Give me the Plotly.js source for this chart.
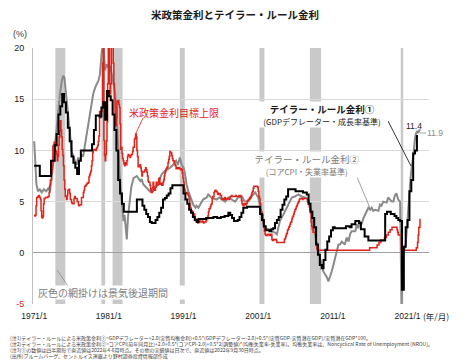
<!DOCTYPE html>
<html>
<head>
<meta charset="utf-8">
<script src="https://cdn.plot.ly/plotly-3.0.1.min.js"></script>
<style>html,body{margin:0;padding:0;background:#fff;}#chart{width:474px;height:363px;}</style>
</head>
<body>
<div id="chart"></div>
<script>
// ---------------- DATA ----------------
// Recession periods (decimal years)
const recessionStart = [1973.83, 1980.0, 1981.5, 1990.5, 2001.17, 2007.92, 2020.08];
const recessionEnd   = [1975.17, 1980.5, 1982.83, 1991.17, 2001.83, 2009.42, 2020.42];

// US policy rate (monthly, Jan 1971 - Nov 2008)
const policyRateMonthly = [
  3.7,3.6,3.7,4.6,5.4,5.4,5.5,5.6,5.5,5.4,5.2,4.1,          // 1971
  3.5,3.4,3.6,4.8,5.3,5.3,5.4,5.4,5.4,5.4,5.5,5.5,          // 1972
  5.9,6.6,7.1,7.1,7.8,8.5,10.4,10.5,10.8,10.0,10.0,9.9,     // 1973
  9.6,9.0,9.4,10.5,11.3,11.9,12.9,12.0,11.3,10.1,9.5,8.5,   // 1974
  7.1,6.2,5.5,5.5,5.2,5.6,6.1,6.1,6.2,5.8,5.2,5.2,          // 1975
  4.9,4.8,4.8,4.8,5.3,5.5,5.3,5.3,5.3,5.0,5.0,4.7,          // 1976
  4.6,4.7,4.7,4.7,5.4,5.4,5.4,5.9,6.1,6.5,6.5,6.6,          // 1977
  6.7,6.8,6.8,6.9,7.4,7.6,7.8,8.0,8.5,9.0,9.8,10.0,         // 1978
  10.1,10.1,10.1,10.0,10.2,10.3,10.5,10.9,11.4,13.8,13.2,13.8, // 1979
  13.8,14.1,18.5,20.5,11.0,9.5,9.0,9.6,10.9,12.8,16.5,21.0, // 1980
  20.5,16.5,15.5,16.5,20.5,20.5,20.2,18.5,16.5,15.1,13.3,12.4, // 1981
  13.2,14.8,14.7,14.9,14.5,14.2,12.6,10.1,10.3,9.7,9.2,9.0, // 1982
  8.7,8.5,8.8,8.8,8.6,9.0,9.4,9.6,9.5,9.5,9.3,9.5,          // 1983
  9.6,9.6,9.9,10.3,10.3,11.1,11.2,11.6,11.3,10.0,9.4,8.4,   // 1984
  8.4,8.5,8.6,8.3,8.0,7.5,7.9,7.9,7.9,8.0,8.1,8.3,          // 1985
  8.1,7.9,7.5,7.0,6.9,6.9,6.6,6.2,5.9,5.9,6.0,6.9,          // 1986
  6.4,6.1,6.1,6.4,6.9,6.7,6.6,6.7,7.2,7.3,6.7,6.8,          // 1987
  6.8,6.6,6.6,6.9,7.1,7.5,7.8,8.0,8.2,8.3,8.4,8.8,          // 1988
  9.1,9.4,9.9,9.8,9.8,9.5,9.2,9.0,9.0,8.8,8.6,8.5,          // 1989
  8.2,8.2,8.3,8.3,8.2,8.3,8.2,8.1,8.2,8.1,7.8,7.3,          // 1990
  6.9,6.3,6.1,5.9,5.8,5.9,5.8,5.7,5.5,5.2,4.8,4.4,          // 1991
  4.0,4.1,4.0,3.7,3.8,3.8,3.3,3.3,3.2,3.1,3.1,2.9,          // 1992
  3.0,3.0,3.1,3.0,3.0,3.0,3.1,3.0,2.9,3.0,3.0,3.0,          // 1993
  3.1,3.3,3.3,3.6,4.0,4.3,4.3,4.5,4.7,4.8,5.3,5.5,          // 1994
  5.5,5.9,6.0,6.1,6.0,6.0,5.9,5.7,5.8,5.8,5.8,5.6,          // 1995
  5.6,5.2,5.3,5.2,5.2,5.3,5.4,5.2,5.3,5.2,5.3,5.3,          // 1996
  5.3,5.2,5.4,5.5,5.5,5.6,5.5,5.5,5.5,5.5,5.5,5.5,          // 1997
  5.6,5.5,5.5,5.5,5.5,5.6,5.5,5.6,5.5,5.1,4.8,4.7,          // 1998
  4.6,4.8,4.8,4.7,4.7,4.8,5.0,5.1,5.2,5.2,5.4,5.3,          // 1999
  5.5,5.7,5.9,6.0,6.3,6.5,6.5,6.5,6.5,6.5,6.5,6.4,          // 2000
  6.0,5.5,5.3,4.8,4.2,4.0,3.8,3.7,3.1,2.5,2.1,1.8,          // 2001
  1.7,1.7,1.7,1.8,1.8,1.8,1.7,1.7,1.8,1.8,1.3,1.2,          // 2002
  1.2,1.3,1.3,1.3,1.3,1.2,1.0,1.0,1.0,1.0,1.0,1.0,          // 2003
  1.0,1.0,1.0,1.0,1.0,1.0,1.3,1.4,1.6,1.8,1.9,2.2,          // 2004
  2.3,2.5,2.6,2.8,3.0,3.0,3.3,3.5,3.6,3.8,4.0,4.2,          // 2005
  4.3,4.5,4.6,4.8,4.9,5.0,5.2,5.3,5.3,5.3,5.3,5.2,          // 2006
  5.3,5.3,5.3,5.3,5.3,5.3,5.3,5.0,4.9,4.8,4.5,4.2,          // 2007
  3.9,3.0,2.6,2.3,2.0,2.0,2.0,2.0,1.8,1.0,0.4               // 2008
];
const policyRateFirstMonth = '1971-01';
// Policy rate target upper limit changes after Dec 2008
const policyStepDates  = ['2008-12','2015-12','2016-12','2017-03','2017-06','2017-12','2018-03','2018-06','2018-09','2018-12','2019-08','2019-09','2019-10','2020-03','2022-03','2022-05','2022-06','2022-07','2022-09','2022-10'];
const policyStepValues = [0.25,0.5,0.75,1.0,1.25,1.5,1.75,2.0,2.25,2.5,2.25,2.0,1.75,0.25,0.5,1.0,1.75,2.5,3.25,3.25];

// Taylor rule 1 (GDP deflator, growth based), quarterly
const taylor1Dates = [1971.0,1971.75,1973.25,1973.75,1974.0,1974.25,1974.5,1974.75,1975.0,1975.25,1975.5,1975.75,1976.0,1976.25,1976.5,1976.75,1977.0,1977.25,1978.75,1979.0,1979.25,1979.75,1980.0,1980.25,1980.5,1980.75,1981.0,1981.25,1981.5,1981.75,1982.0,1982.25,1982.5,1982.75,1983.0,1984.5,1984.75,1985.5,1985.75,1986.0,1986.25,1986.5,1986.75,1987.25,1987.5,1987.75,1988.0,1988.25,1988.5,1988.75,1989.0,1989.25,1989.5,1991.0,1991.25,1991.5,1991.75,1992.0,1992.25,1992.5,1992.75,1993.0,1994.0,1995.0,1995.5,1996.0,1996.5,1997.0,1997.25,1997.5,1997.75,1998.25,1998.5,1998.75,1999.0,1999.5,2001.25,2001.5,2001.75,2002.0,2002.5,2002.75,2003.0,2003.25,2003.5,2003.75,2004.0,2004.25,2004.5,2004.75,2005.0,2006.0,2007.0,2007.5,2007.75,2008.0,2008.25,2008.5,2008.75,2009.0,2009.25,2009.5,2009.75,2010.0,2010.25,2010.5,2010.75,2011.0,2011.25,2012.75,2013.25,2013.5,2014.0,2014.5,2014.75,2015.25,2015.75,2018.0,2018.25,2018.75,2019.25,2019.5,2019.75,2020.0,2020.25,2020.5,2020.75,2021.0,2021.25,2021.5,2021.75,2022.0,2022.25,2022.4];
const taylor1Values = [8.5,7.5,9.0,10.5,11.6,13.5,14.3,15.5,14.7,13.7,12.2,10.9,9.4,8.8,8.3,7.7,9.0,10.0,10.6,12.0,13.4,13.3,14.2,14.7,13.0,15.8,15.3,14.9,13.5,12.0,10.0,7.1,5.8,4.8,4.0,4.0,5.2,4.6,4.2,3.8,3.5,3.0,2.9,3.2,3.5,3.9,4.4,5.2,5.35,5.6,5.8,6.3,6.6,5.8,5.2,4.8,4.2,3.9,3.5,3.2,3.0,3.3,3.4,3.5,3.4,3.5,3.6,3.9,3.7,3.4,3.1,3.2,3.5,3.9,4.4,4.5,3.8,3.2,2.6,2.2,2.1,2.3,2.4,2.9,3.2,3.5,4.2,4.7,5.2,5.5,6.2,6.0,5.9,5.7,4.8,4.0,3.4,2.5,0.8,-0.2,-1.2,-1.5,-0.7,0.3,1.1,1.6,2.2,2.5,2.4,2.6,2.5,2.8,3.1,2.9,2.3,1.6,1.2,3.8,4.0,3.8,3.6,3.4,3.2,3.1,-3.6,0.6,2.5,3.2,6.0,7.1,9.7,10.0,11.4,11.4];

// Taylor rule 2 (core CPI, unemployment based)
const taylor2Dates = [1971.0,1971.1,1971.3,1971.5,1971.75,1972.0,1972.3,1972.6,1972.9,1973.1,1973.35,1973.6,1973.8,1974.0,1974.25,1974.45,1974.7,1974.9,1975.05,1975.2,1975.4,1975.55,1975.8,1976.0,1976.25,1976.45,1976.7,1976.9,1977.1,1977.35,1977.55,1977.8,1978.0,1978.25,1978.45,1978.7,1978.9,1979.15,1979.35,1979.6,1979.8,1980.05,1980.25,1980.5,1980.65,1980.8,1980.95,1981.2,1981.4,1981.6,1981.85,1982.05,1982.2,1982.35,1982.5,1982.75,1982.95,1983.1,1983.25,1983.4,1983.55,1983.75,1984.0,1984.3,1984.75,1985.2,1985.4,1985.6,1986.0,1986.5,1986.9,1987.4,1987.85,1988.1,1988.5,1988.75,1989.2,1989.6,1990.0,1990.25,1990.5,1990.75,1991.0,1991.2,1991.4,1991.65,1991.9,1992.3,1992.6,1992.75,1993.0,1993.2,1993.6,1994.1,1994.3,1994.7,1995.4,1995.8,1996.2,1996.55,1997.0,1997.4,1997.9,1998.3,1998.8,1999.2,1999.65,2000.1,2000.6,2001.0,2001.25,2001.5,2001.7,2001.9,2002.4,2002.8,2003.2,2003.5,2003.7,2003.9,2004.35,2004.6,2005.0,2005.5,2005.9,2006.4,2006.8,2007.3,2007.7,2007.9,2008.15,2008.4,2008.6,2008.8,2009.05,2009.3,2009.5,2009.7,2009.95,2010.2,2010.4,2010.6,2010.85,2011.1,2011.3,2011.5,2011.75,2011.95,2012.2,2012.6,2012.85,2013.1,2013.3,2013.5,2014.0,2014.2,2014.4,2014.6,2014.85,2015.1,2015.3,2015.5,2015.75,2016.0,2016.2,2016.4,2016.65,2017.1,2017.3,2017.5,2017.75,2018.2,2018.4,2018.65,2018.9,2019.1,2019.3,2019.5,2019.75,2020.0,2020.12,2020.2,2020.35,2020.5,2020.75,2020.9,2021.0,2021.2,2021.4,2021.6,2021.8,2021.95,2022.1,2022.3,2022.45,2022.6,2022.7];
const taylor2Values = [10.9,9.0,6.7,6.0,6.2,5.9,6.2,6.0,6.3,6.0,7.3,9.0,10.6,12.2,13.8,15.5,16.8,17.3,17.1,16.1,14.8,13.2,11.6,9.9,9.3,9.0,8.6,9.3,9.0,9.6,9.4,10.6,11.6,12.5,13.8,14.8,15.5,16.1,16.4,16.8,17.4,19.7,20.2,17.8,18.4,18.1,18.4,18.1,17.4,16.4,15.5,13.2,11.2,9.0,6.7,5.0,3.1,3.7,2.1,1.3,3.4,5.0,6.4,7.3,7.5,7.0,7.2,6.7,6.4,6.0,6.4,6.5,7.3,7.7,8.0,8.1,8.3,8.6,9.0,8.6,9.3,8.6,8.3,7.7,6.7,6.0,5.5,4.7,4.4,4.6,4.4,4.7,5.2,5.4,5.7,5.4,5.2,5.4,5.2,5.0,5.4,5.2,5.0,5.4,5.5,5.0,5.0,5.5,5.9,5.4,4.4,3.4,2.8,2.4,2.3,2.1,2.0,1.8,2.4,3.1,3.7,4.1,4.7,5.4,5.5,5.7,5.5,5.4,5.2,4.7,4.1,2.8,1.8,0.8,0.2,-0.5,-1.1,-1.8,-2.1,-2.4,-2.8,-2.4,-1.8,-1.1,-0.5,0.3,0.8,0.8,1.1,0.8,1.5,1.1,1.8,2.1,2.1,2.8,2.4,3.1,2.8,3.4,3.7,4.1,4.4,4.2,4.4,4.1,4.2,4.1,4.7,4.6,5.0,4.9,5.4,5.2,5.0,5.0,5.6,5.8,5.2,5.0,-2.4,-5.5,-0.5,0.2,0.8,2.4,3.4,5.4,7.3,8.6,9.6,10.9,11.6,11.9,11.7,12.0,11.9];

const latestTaylor1 = 11.4;
const latestTaylor2 = 11.9;

const xTickYears  = [1971, 1981, 1991, 2001, 2011, 2021];
const xTickLabels = ['1971/1', '1981/1', '1991/1', '2001/1', '2011/1', '2021/1'];
const yTickVals   = [-5, 0, 5, 10, 15, 20];
const yTickLabels = ['<span style="color:#e2231a">-5</span>', '0', '5', '10', '15', '20'];

const noteLines = [
  '(注1)テイラー・ルールによる米政策金利①=GDPデフレーター+2.0(実質均衡金利)+0.5*(GDPデフレーター-2.0)+0.5*(実質GDP-実質潜在GDP)/実質潜在GDP*100。',
  '(注2)テイラー・ルールによる米政策金利②=コアCPI(前年同月比)+2.0+0.5*(コアCPI-2.0)+0.5*2(調整値)*(均衡失業率-失業率)。均衡失業率は、Noncyclical Rate of Unemployment (NROU)。',
  '(注3)①の数値は四半期毎で直近値は2022年4-6月時点。その他の実績値は日次で、直近値は2022年9月30日時点。',
  '(出所)ブルームバーグ、セントルイス連銀より野村證券投資情報部作成'
];

// ---------------- BUILD ----------------
function ym(s) { const p = s.split('-'); return +p[0] + (+p[1] - 1) / 12; }
const start = ym(policyRateFirstMonth);
const redX = policyRateMonthly.map((v, i) => start + i / 12).concat(policyStepDates.map(ym));
const redY = policyRateMonthly.concat(policyStepValues);

const L = 33, R = 45, T = 48, B = 59, W = 474, H = 363;
const pw = W - L - R, ph = H - T - B;
const px = x => (x - L) / pw;
const py = y => (H - B - y) / ph;

const JP = '"Noto Sans CJK JP", "Liberation Sans", sans-serif';
const NUM = '"Liberation Sans", Arial, sans-serif';
const RED = '#e2231a', GRAY = '#8a8a8a';

const traces = [
  { x: taylor2Dates, y: taylor2Values, mode: 'lines', line: { color: GRAY, width: 2 }, hoverinfo: 'skip' },
  { x: redX, y: redY, mode: 'lines', line: { color: RED, width: 1.5, shape: 'hv' }, hoverinfo: 'skip' },
  { x: taylor1Dates, y: taylor1Values, mode: 'lines', line: { color: '#000000', width: 2, shape: 'hv' }, hoverinfo: 'skip' }
];

const shapes = recessionStart.map((s, i) => ({
  type: 'rect', xref: 'x', yref: 'y', x0: s, x1: recessionEnd[i], y0: -5, y1: 20,
  fillcolor: '#c9c9c9', line: { width: 0 }, layer: 'below'
}));
function seg(x0, y0, x1, y1, color) {
  return { type: 'line', xref: 'paper', yref: 'paper', x0: px(x0), y0: py(y0), x1: px(x1), y1: py(y1), line: { color: color, width: 0.8 }, layer: 'above' };
}
shapes.push(seg(143, 118, 136, 133, RED));
shapes.push(seg(388, 121, 411, 166, '#000000'));
shapes.push(seg(357, 177, 370, 208, GRAY));
shapes.push(seg(57, 270, 68, 286, GRAY));
shapes.push(seg(420, 133, 426, 133, GRAY));

function ann(x, y, text, font, extra) {
  return Object.assign({ xref: 'paper', yref: 'paper', x: px(x), y: py(y), xanchor: 'center', yanchor: 'middle',
    text: text, showarrow: false, font: font }, extra || {});
}
const annotations = [
  ann(20, 34, '(%)', { family: NUM, size: 9, color: '#404040' }),
  ann(174, 112, '米政策金利目標上限', { family: JP, size: 10, color: RED }),
  ann(322, 114.5, '<b>テイラー・ルール金利①</b><br><span style="font-size:8px">(GDPデフレーター・成長率基準)</span>',
      { family: JP, size: 9.5, color: '#1a1a1a' }, { width: 130, height: 25, bgcolor: '#ffffff', borderpad: 0 }),
  ann(307, 164.5, 'テイラー・ルール金利②<br><span style="font-size:8px">(コアCPI・失業率基準)</span>',
      { family: JP, size: 9.5, color: '#7a7a7a' }, { width: 106, height: 25, bgcolor: '#ffffff', borderpad: 0 }),
  ann(37, 292.5, '灰色の網掛けは景気後退期間', { family: JP, size: 10, color: '#808080' },
      { xanchor: 'left', width: 148, height: 13, align: 'left', bgcolor: '#ffffff', borderpad: 0 }),
  ann(414, 126, String(latestTaylor1), { family: NUM, size: 8.5, color: '#1a1a1a' }),
  ann(435, 133, String(latestTaylor2), { family: NUM, size: 8.5, color: '#8a8a8a' }),
  ann(421, 316, '(年/月)', { family: JP, size: 8.5, color: '#262626' }, { xanchor: 'left' })
];
const noteY = [337.5, 343.5, 349.5, 355.5];
noteLines.forEach((t, i) => annotations.push(
  ann(8, noteY[i], t, { family: JP, size: 5, color: '#404040' }, { xanchor: 'left', align: 'left' })
));

const layout = {
  width: W, height: H, autosize: false,
  margin: { l: L, r: R, t: T, b: B, pad: 0 },
  paper_bgcolor: '#ffffff', plot_bgcolor: '#ffffff',
  showlegend: false,
  title: { text: '<b>米政策金利とテイラー・ルール金利</b>', xref: 'container', yref: 'container', x: 235 / W, y: 1 - 15 / H, xanchor: 'center', yanchor: 'middle',
    font: { family: JP, size: 10.5, color: '#1a1a1a' } },
  xaxis: {
    type: 'linear', range: [1970.84, 2023.87], tickmode: 'array', tickvals: xTickYears, ticktext: xTickLabels,
    showgrid: false, zeroline: false, showline: false, ticks: '', ticklabelstandoff: 5,
    tickfont: { family: NUM, size: 8.5, color: '#1a1a1a' }, fixedrange: true
  },
  yaxis: {
    range: [-5, 20], tickmode: 'array', tickvals: yTickVals, ticktext: yTickLabels,
    showgrid: true, gridcolor: '#d9d9d9', gridwidth: 1,
    zeroline: true, zerolinecolor: '#a0a0a0', zerolinewidth: 1,
    showline: true, linecolor: '#c0c0c0', linewidth: 1, ticks: '', ticklabelstandoff: 6,
    tickfont: { family: NUM, size: 9, color: '#1a1a1a' }, fixedrange: true
  },
  shapes: shapes,
  annotations: annotations
};

Plotly.newPlot('chart', traces, layout, { staticPlot: true, displayModeBar: false });
</script>
</body>
</html>
